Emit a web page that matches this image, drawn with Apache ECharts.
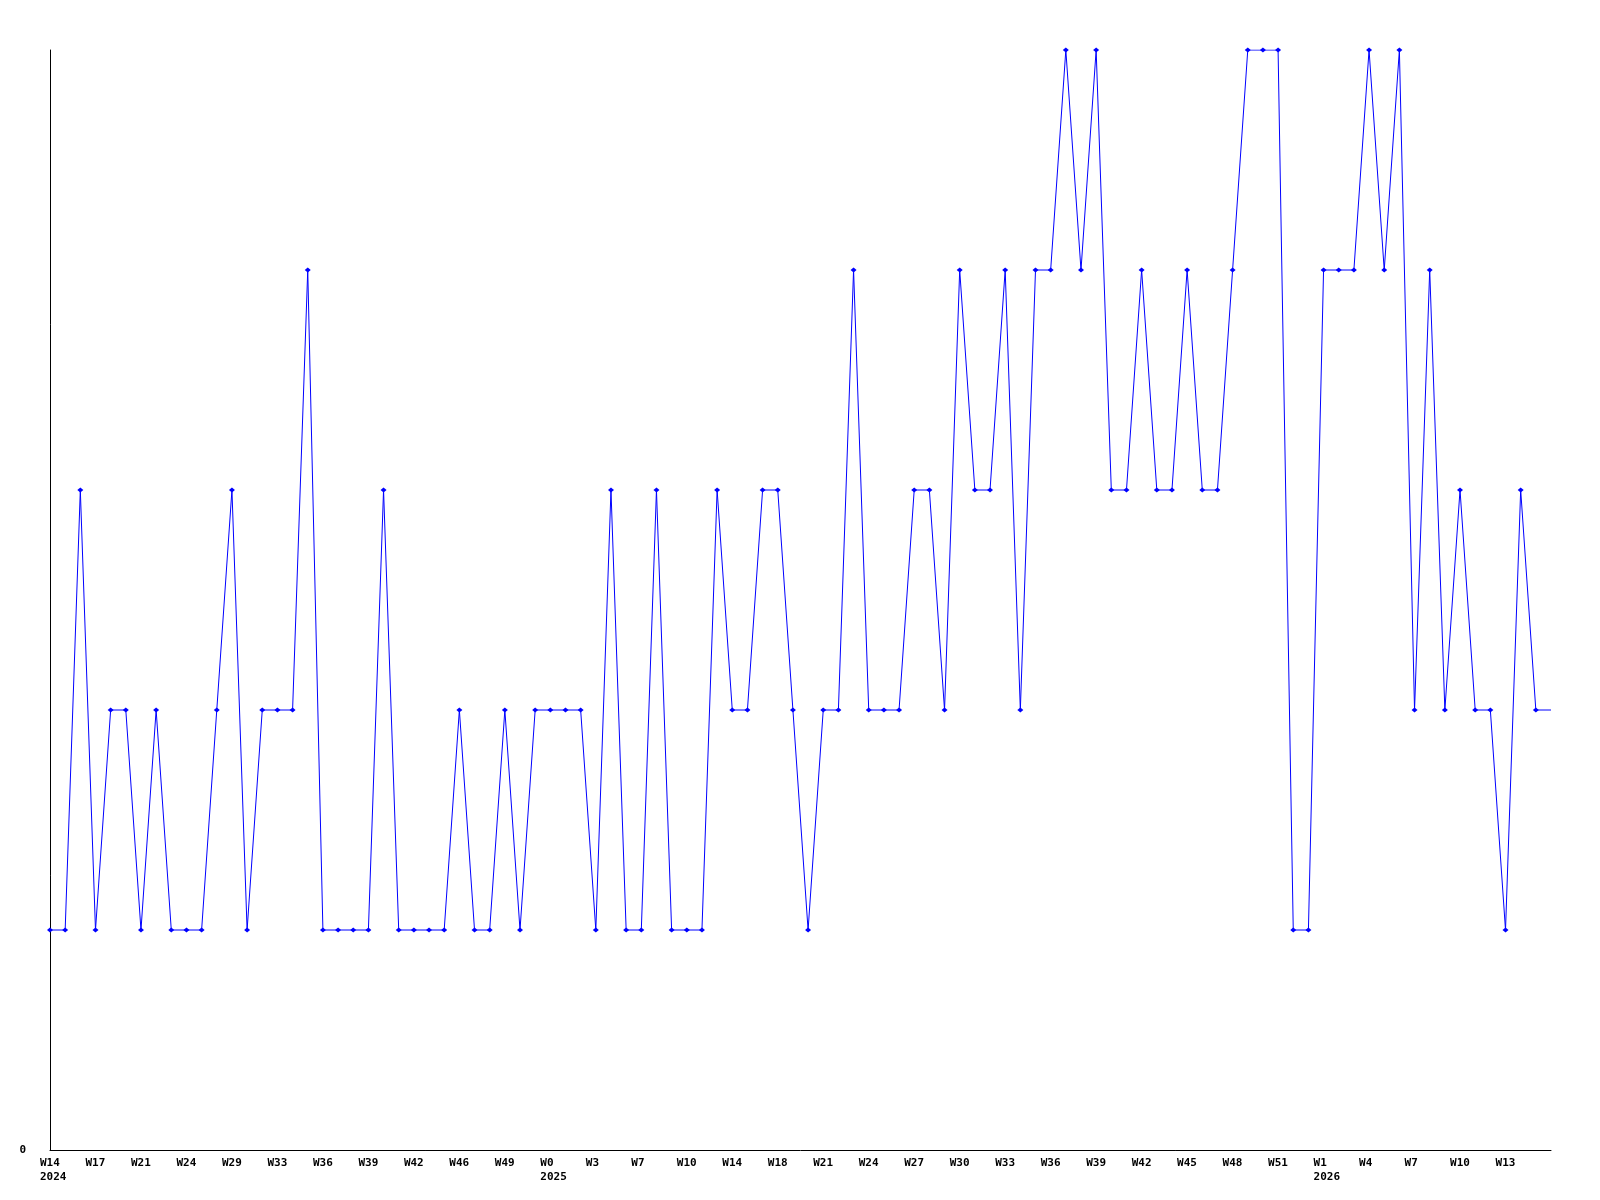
<!DOCTYPE html>
<html>
<head>
<meta charset="utf-8">
<title>Weekly chart</title>
<script src="https://cdn.jsdelivr.net/npm/echarts@6/dist/echarts.min.js"></script>
<style>
  html, body { margin: 0; padding: 0; background: #fff; }
  #chart { width: 1600px; height: 1200px; }
</style>
</head>
<body>
<div id="chart"></div>
<script>
// week labels, year shown under the first week of each year
const weeks = [
  'W14\n2024', 'W15', 'W16', 'W17', 'W18', 'W19', 'W21', 'W22', 'W23', 'W24',
  'W26', 'W27', 'W29', 'W30', 'W31', 'W33', 'W34', 'W35', 'W36', 'W37',
  'W38', 'W39', 'W40', 'W41', 'W42', 'W43', 'W44', 'W46', 'W47', 'W48',
  'W49', 'W50', 'W51', 'W0\n2025', 'W1', 'W2', 'W3', 'W4', 'W5', 'W7',
  'W8', 'W9', 'W10', 'W11', 'W12', 'W14', 'W15', 'W16', 'W18', 'W19',
  'W20', 'W21', 'W22', 'W23', 'W24', 'W25', 'W26', 'W27', 'W28', 'W29',
  'W30', 'W31', 'W32', 'W33', 'W34', 'W35', 'W36', 'W37', 'W38', 'W39',
  'W40', 'W41', 'W42', 'W43', 'W44', 'W45', 'W46', 'W47', 'W48', 'W49',
  'W50', 'W51', 'W52', 'W0', 'W1\n2026', 'W2', 'W3', 'W4', 'W5', 'W6',
  'W7', 'W8', 'W9', 'W10', 'W11', 'W12', 'W13', 'W14', 'W15', 'W16'
];

const counts = [
  1, 1, 3, 1, 2, 2, 1, 2, 1, 1,
  1, 2, 3, 1, 2, 2, 2, 4, 1, 1,
  1, 1, 3, 1, 1, 1, 1, 2, 1, 1,
  2, 1, 2, 2, 2, 2, 1, 3, 1, 1,
  3, 1, 1, 1, 3, 2, 2, 3, 3, 2,
  1, 2, 2, 4, 2, 2, 2, 3, 3, 2,
  4, 3, 3, 4, 2, 4, 4, 5, 4, 5,
  3, 3, 4, 3, 3, 4, 3, 3, 4, 5,
  5, 5, 1, 1, 4, 4, 4, 5, 4, 5,
  2, 4, 2, 3, 2, 2, 1, 3, 2, 2
];

const font = 'DejaVu Sans Mono';
const chart = echarts.init(document.getElementById('chart'));

const option = {
  animation: false,
  backgroundColor: '#ffffff',
  grid: {
    left: 50,
    right: 49,
    top: 50,
    bottom: 50,
    containLabel: false
  },
  xAxis: {
    type: 'category',
    data: weeks,
    boundaryGap: false,
    axisLine: { lineStyle: { color: '#000', width: 1 } },
    axisTick: { show: false },
    splitLine: { show: false },
    axisLabel: {
      interval: 2,
      showMaxLabel: false,
      margin: 6,
      align: 'center',
      formatter: v => v.split('\n').map(s => '{t|' + s + '}').join('\n'),
      rich: {
        t: {
          width: 20,
          align: 'left',
          fontFamily: font,
          fontWeight: 'bold',
          fontSize: 11,
          lineHeight: 14,
          color: '#000'
        }
      }
    }
  },
  yAxis: {
    type: 'value',
    min: 0,
    max: 5,
    interval: 5,
    axisLine: { show: true, lineStyle: { color: '#000', width: 1 } },
    axisTick: { show: false },
    splitLine: { show: false },
    axisLabel: {
      margin: 24,
      fontFamily: font,
      fontWeight: 'bold',
      fontSize: 11,
      color: '#000',
      formatter: v => (v === 0 ? '0' : '')
    }
  },
  series: [
    {
      type: 'line',
      data: counts,
      showAllSymbol: true,
      // last point sits on the plot edge, drawn without a marker
      symbol: (v, params) => (params.dataIndex === counts.length - 1 ? 'none' : 'diamond'),
      symbolSize: [6, 5],
      lineStyle: { color: '#0000ff', width: 1 },
      itemStyle: { color: '#0000ff' },
      emphasis: { disabled: true }
    }
  ]
};

chart.setOption(option);
</script>
</body>
</html>
